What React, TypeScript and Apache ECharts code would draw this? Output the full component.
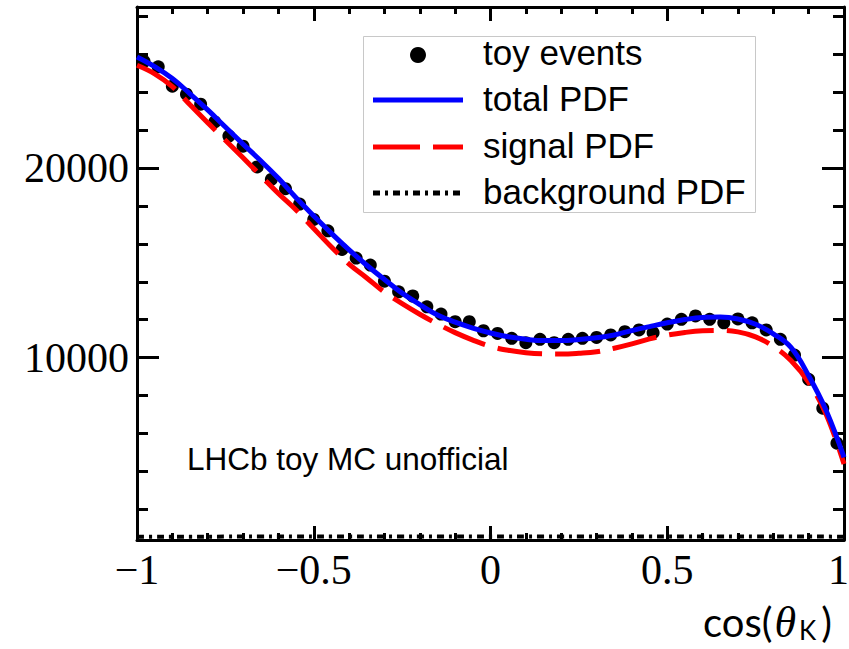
import React, { useEffect, useRef } from "react";
import * as echarts from "echarts";

// Toy events: bin centres and counts (50 bins)
const binCenters = [
  -0.98, -0.94, -0.9, -0.86, -0.82, -0.78, -0.74, -0.7, -0.66, -0.62,
  -0.58, -0.54, -0.5, -0.46, -0.42, -0.38, -0.34, -0.3, -0.26, -0.22,
  -0.18, -0.14, -0.1, -0.06, -0.02, 0.02, 0.06, 0.1, 0.14, 0.18,
  0.22, 0.26, 0.3, 0.34, 0.38, 0.42, 0.46, 0.5, 0.54, 0.58,
  0.62, 0.66, 0.7, 0.74, 0.78, 0.82, 0.86, 0.9, 0.94, 0.98,
];
const toyEvents = [
  25600, 25320, 24300, 23880, 23350, 22420, 21670, 21140, 20050, 19390,
  18900, 18090, 17280, 16680, 15700, 15250, 14880, 14030, 13470, 13250,
  12680, 12300, 11900, 11900, 11420, 11280, 11020, 10790, 10970, 10790,
  10970, 11020, 11070, 11200, 11370, 11460, 11320, 11770, 12020, 12200,
  12020, 11840, 12040, 11840, 11460, 10970, 10140, 8860, 7340, 5500,
];

// PDF curves sampled on a grid
const pdfX = [
  -1.0, -0.95, -0.9, -0.85, -0.8, -0.75, -0.7, -0.65, -0.6, -0.55,
  -0.5, -0.45, -0.4, -0.35, -0.3, -0.25, -0.2, -0.15, -0.1, -0.05,
  0.0, 0.05, 0.1, 0.15, 0.2, 0.25, 0.3, 0.35, 0.4, 0.45,
  0.5, 0.55, 0.6, 0.65, 0.7, 0.75, 0.8, 0.85, 0.9, 0.95, 1.0,
];
const totalPdf = [
  25840, 25330, 24700, 23900, 23050, 22150, 21250, 20370, 19450, 18420,
  17470, 16550, 15680, 14870, 14120, 13400, 12800, 12250, 11870, 11560,
  11300, 11100, 10970, 10900, 10900, 10960, 11050, 11200, 11430, 11640,
  11840, 12010, 12120, 12140, 12040, 11760, 11260, 10540, 9050, 7200, 4750,
];
const signalPdf = [
  25400, 24950, 24280, 23320, 22380, 21450, 20530, 19590, 18650, 17780,
  16800, 15830, 14930, 14200, 13450, 12850, 12290, 11780, 11320, 10930,
  10600, 10390, 10260, 10200, 10190, 10230, 10310, 10500, 10730, 10990,
  11190, 11330, 11420, 11440, 11360, 11100, 10600, 9850, 8700, 7000, 4400,
];
const backgroundPdf = [
  570, 572, 574, 575, 576, 578, 579, 580, 581, 582,
  583, 584, 585, 585, 586, 586, 587, 587, 587, 588,
  588, 588, 588, 588, 588, 588, 587, 587, 587, 586,
  586, 585, 585, 584, 583, 582, 581, 580, 579, 578, 576,
];

const X_MIN = -1;
const X_MAX = 1;
const yMajorTicks = [10000, 20000];
const yMinorTicks = [2000, 4000, 6000, 8000, 12000, 14000, 16000, 18000, 22000, 24000, 26000, 28000];
const legendLabels = ["toy events", "total PDF", "signal PDF", "background PDF"];
const cornerLabel = "LHCb toy MC unofficial";

const Y_MIN = 400;
const Y_MAX = 28470;

const fmtX = (v: number) => String(v).replace("-", "\u2212");

export default function App() {
  const ref = useRef<HTMLDivElement>(null);

  useEffect(() => {
    if (!ref.current) return;
    const chart = echarts.init(ref.current, undefined, { renderer: "svg" });

    const black = "#000";
    const serif = "'Liberation Serif', 'Times New Roman', serif";
    const sans = "'Liberation Sans', Arial, sans-serif";
    const titleFont = "Lato, 'Open Sans', sans-serif";
    const frameLine = { show: true, onZero: false, lineStyle: { color: black, width: 3 } };

    const xBase = (pos: "top" | "bottom", labels: boolean) => ({
      type: "value",
      position: pos,
      min: X_MIN,
      max: X_MAX,
      interval: 0.5,
      axisLine: frameLine,
      axisTick: { show: true, inside: true, length: 14, lineStyle: { color: black, width: 3 } },
      minorTick: { show: true, splitNumber: 5, length: 7, lineStyle: { color: black, width: 3 } },
      splitLine: { show: false },
      minorSplitLine: { show: false },
      axisLabel: {
        show: labels,
        margin: 9,
        color: black,
        fontFamily: serif,
        fontSize: 42,
        showMinLabel: true,
        showMaxLabel: false,
        formatter: fmtX,
      },
    });

    const yBase = (pos: "left" | "right", ticks: number[], len: number, labels: boolean, line: boolean) => ({
      type: "value",
      position: pos,
      min: Y_MIN,
      max: Y_MAX,
      axisLine: line ? frameLine : { show: false, onZero: false },
      axisTick: { show: true, inside: true, length: len, customValues: ticks, lineStyle: { color: black, width: 3 } },
      splitLine: { show: false },
      axisLabel: {
        show: labels,
        customValues: ticks,
        margin: 8,
        color: black,
        fontFamily: serif,
        fontSize: 42,
        formatter: (v: number) => String(v),
      },
    });

    const legendY = [55, 100, 147, 193];
    const legendTextY = [52, 98, 145, 191];

    chart.setOption({
      animation: false,
      backgroundColor: "#fff",
      grid: { left: 137, right: 5, top: 7, bottom: 109, containLabel: false, outerBoundsMode: "none" },
      xAxis: [xBase("bottom", true), xBase("top", false)],
      yAxis: [
        yBase("left", yMajorTicks, 22, true, true),
        yBase("right", yMajorTicks, 22, false, true),
        yBase("left", yMinorTicks, 11, false, false),
        yBase("right", yMinorTicks, 11, false, false),
      ],
      series: [
        {
          type: "scatter",
          name: legendLabels[0],
          data: binCenters.map((x, i) => [x, toyEvents[i]]),
          symbol: "circle",
          symbolSize: 13,
          itemStyle: { color: black, opacity: 1 },
          z: 2,
        },
        {
          type: "line",
          name: legendLabels[1],
          data: pdfX.map((x, i) => [x, totalPdf[i]]),
          symbol: "none",
          smooth: 0.4,
          lineStyle: { color: "#0000ff", width: 5 },
          z: 4,
        },
        {
          type: "line",
          name: legendLabels[2],
          data: pdfX.map((x, i) => [x, signalPdf[i]]),
          symbol: "none",
          smooth: 0.4,
          lineStyle: { color: "#ff0000", width: 5, type: [45, 13] },
          z: 3,
        },
        {
          type: "line",
          name: legendLabels[3],
          data: pdfX.map((x, i) => [x, backgroundPdf[i]]),
          symbol: "none",
          smooth: 0.4,
          lineStyle: { color: black, width: 4, type: [7, 5, 3, 5] },
          z: 5,
        },
      ],
      graphic: [
        // last x tick label, kept inside the page edge
        {
          type: "text",
          z: 101,
          x: 849,
          y: 549,
          style: { text: fmtX(X_MAX), fill: black, font: `42px ${serif}`, textAlign: "right", textVerticalAlign: "top" },
        },
        {
          type: "rect",
          z: 100,
          shape: { x: 363.5, y: 36.5, width: 392, height: 176 },
          style: { fill: "#fff", stroke: "#c8c8c8", lineWidth: 1 },
        },
        {
          type: "circle",
          z: 101,
          shape: { cx: 418, cy: legendY[0], r: 8 },
          style: { fill: black },
        },
        {
          type: "line",
          z: 101,
          shape: { x1: 373, y1: legendY[1], x2: 463, y2: legendY[1] },
          style: { stroke: "#0000ff", lineWidth: 5 },
        },
        {
          type: "line",
          z: 101,
          shape: { x1: 373, y1: legendY[2], x2: 463, y2: legendY[2] },
          style: { stroke: "#ff0000", lineWidth: 5, lineDash: [47, 13] },
        },
        {
          type: "line",
          z: 101,
          shape: { x1: 373, y1: legendY[3], x2: 463, y2: legendY[3] },
          style: { stroke: black, lineWidth: 5, lineDash: [7, 5, 3, 5] },
        },
        ...legendLabels.map((t, i) => ({
          type: "text",
          z: 101,
          x: 483,
          y: legendTextY[i],
          style: { text: t, fill: black, font: `35px ${sans}`, textAlign: "left", textVerticalAlign: "middle" },
        })),
        {
          type: "text",
          z: 101,
          x: 187,
          y: 459,
          style: { text: cornerLabel, fill: black, font: `31.5px ${sans}`, textAlign: "left", textVerticalAlign: "middle" },
        },
        {
          type: "text",
          z: 101,
          x: 832,
          y: 622,
          style: {
            text: "{a|cos(}{b|\u03B8}{c|K}{a|)}",
            fill: black,
            textAlign: "right",
            textVerticalAlign: "middle",
            rich: {
              a: { fontFamily: titleFont, fontSize: 40, color: black },
              b: { fontFamily: serif, fontStyle: "italic", fontSize: 44, color: black, padding: [0, 3, 0, 2] },
              c: { fontFamily: titleFont, fontSize: 26, color: black, padding: [15, 5, 0, 0] },
            },
          },
        },
      ],
    });

    return () => chart.dispose();
  }, []);

  return <div ref={ref} style={{ position: "absolute", left: 0, top: 0, width: 849, height: 649 }} />;
}
